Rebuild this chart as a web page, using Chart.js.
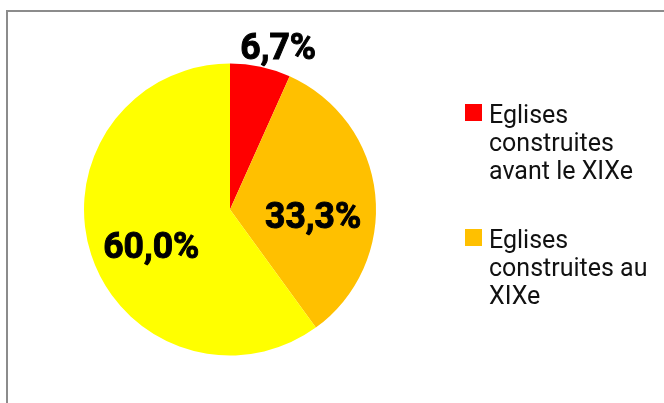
<!DOCTYPE html>
<html>
<head>
<meta charset="utf-8">
<script src="https://cdn.jsdelivr.net/npm/chart.js@4/dist/chart.umd.min.js"></script>
<style>
  html, body { margin: 0; padding: 0; background: #fff; }
  #wrap { width: 664px; height: 403px; position: relative; }
</style>
</head>
<body>
<div id="wrap"><canvas id="pie-chartcanvas" width="664" height="403"></canvas></div>
<script>
// values (percent) and their labels, in drawing order from 12 o'clock clockwise
var categories = ["Eglises construites avant le XIXe", "Eglises construites au XIXe", "Eglises construites après le XIXe"];
var values = [6.7, 33.3, 60.0];
var colors = ["#FF0000", "#FFC000", "#FFFF00"];
// legend text split in lines, only the first two series are listed
var legendLines = [
	["Eglises", "construites", "avant le XIXe"],
	["Eglises", "construites au", "XIXe"]
];
// value label placement: distance from centre (x radius) and angle nudge in degrees
var labelRadius = [1.165, 0.57, 0.59];
var labelNudge = [4.4, 9.4, -6];

var FONT = "Roboto, 'Liberation Sans', sans-serif";

function stretchText(ctx, txt, x, y, sx, align, heavy) {
	ctx.save();
	ctx.translate(x, y);
	ctx.scale(sx, 1);
	ctx.textAlign = align;
	ctx.fillText(txt, 0, 0);
	if (heavy) {
		ctx.lineWidth = heavy;
		ctx.strokeStyle = ctx.fillStyle;
		ctx.strokeText(txt, 0, 0);
	}
	ctx.restore();
}

var framePlugin = {
	id: "frame",
	beforeDraw: function(chart) {
		var c = chart.ctx;
		c.save();
		c.strokeStyle = "#8c8c8c";
		c.lineWidth = 2;
		c.beginPath();
		c.moveTo(7, 403);
		c.lineTo(7, 11);
		c.lineTo(664, 11);
		c.stroke();
		c.restore();
	}
};

var labelPlugin = {
	id: "valueLabels",
	afterDatasetsDraw: function(chart) {
		var c = chart.ctx;
		var meta = chart.getDatasetMeta(0);
		c.save();
		c.fillStyle = "#000";
		c.font = "bold 37px " + FONT;
		c.textBaseline = "alphabetic";
		meta.data.forEach(function(arc, i) {
			var p = arc.getProps(["x", "y", "startAngle", "endAngle", "outerRadius"], true);
			var mid = (p.startAngle + p.endAngle) / 2 + labelNudge[i] * Math.PI / 180;
			var r = p.outerRadius * labelRadius[i];
			var txt = values[i].toFixed(1).replace(".", ",") + "%";
			stretchText(c, txt, p.x + Math.cos(mid) * r, p.y + Math.sin(mid) * r + 13, 0.96, "center", 1);
		});
		c.restore();
	}
};

var legendPlugin = {
	id: "sideLegend",
	afterDraw: function(chart) {
		var c = chart.ctx;
		var tops = [104, 229];
		c.save();
		c.font = "25px " + FONT;
		c.textBaseline = "alphabetic";
		legendLines.forEach(function(lines, i) {
			c.fillStyle = colors[i];
			c.fillRect(465, tops[i], 17, 17);
			c.fillStyle = "#111";
			lines.forEach(function(line, j) {
				stretchText(c, line, 489, tops[i] + 19 + j * 28, 1.0, "left");
			});
		});
		c.restore();
	}
};

var ctx = document.getElementById("pie-chartcanvas");

var chart = new Chart(ctx, {
	type: "pie",
	data: {
		labels: categories,
		datasets: [{
			data: values,
			backgroundColor: colors,
			borderWidth: 0
		}]
	},
	options: {
		responsive: false,
		animation: false,
		layout: {
			padding: { left: 84, right: 288, top: 63, bottom: 47 }
		},
		plugins: {
			legend: { display: false },
			tooltip: { enabled: false }
		}
	},
	plugins: [framePlugin, labelPlugin, legendPlugin]
});
</script>
</body>
</html>
